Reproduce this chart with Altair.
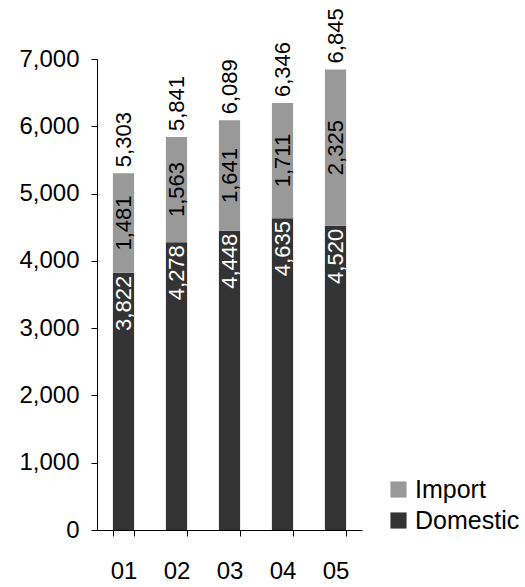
import altair as alt
import pandas as pd

years = ["01", "02", "03", "04", "05"]
domestic = [3822, 4278, 4448, 4635, 4520]
imports = [1481, 1563, 1641, 1711, 2325]
totals = [5303, 5841, 6089, 6346, 6845]

rows = []
for y, d, i in zip(years, domestic, imports):
    rows.append({"year": y, "series": "Domestic", "value": d, "start": 0, "end": d, "mid": d})
    rows.append({"year": y, "series": "Import", "value": i, "start": d, "end": d + i, "mid": d + i / 2})
df = pd.DataFrame(rows)
dom_df = df[df.series == "Domestic"]
imp_df = df[df.series == "Import"]
tot = pd.DataFrame({"year": years, "total": totals})

FONT = "Liberation Sans"
AX = 24
xenc = alt.X("year:N", scale=alt.Scale(paddingInner=0.6, paddingOuter=0.3),
             axis=alt.Axis(title=None, labelAngle=0, tickBand="extent", labelFontSize=AX,
                           labelFont=FONT, labelColor="black", labelPadding=23,
                           tickSize=6, tickColor="black", domainColor="black"))

bars = alt.Chart(df).mark_bar().encode(
    x=xenc,
    y=alt.Y("start:Q", scale=alt.Scale(domain=[0, 7000]),
            axis=alt.Axis(title=None, values=[0, 1000, 2000, 3000, 4000, 5000, 6000, 7000],
                          format=",.0f", grid=False, labelFontSize=AX, labelFont=FONT,
                          labelColor="black", tickSize=6, tickColor="black",
                          domainColor="black", labelPadding=12)),
    y2="end:Q",
    color=alt.Color("series:N",
                    scale=alt.Scale(domain=["Import", "Domestic"], range=["#999999", "#333333"]),
                    legend=alt.Legend(title=None, orient="none", legendX=289, legendY=418,
                                      symbolType="square", symbolSize=260, symbolStrokeWidth=0,
                                      labelFontSize=25, labelFont=FONT, labelColor="black",
                                      rowPadding=5, labelOffset=4)),
)

dom_labels = alt.Chart(dom_df).mark_text(angle=270, align="right", baseline="middle", dx=-3,
                                         fontSize=22, font=FONT, color="white").encode(
    x=alt.X("year:N"),
    y=alt.Y("end:Q"),
    text=alt.Text("value:Q", format=","),
)

imp_labels = alt.Chart(imp_df).mark_text(angle=270, align="center", baseline="middle",
                                         fontSize=22, font=FONT, color="black").encode(
    x=alt.X("year:N"),
    y=alt.Y("mid:Q"),
    text=alt.Text("value:Q", format=","),
)

tot_labels = alt.Chart(tot).mark_text(angle=270, align="left", baseline="middle", dx=6,
                                      fontSize=22, font=FONT, color="black").encode(
    x=alt.X("year:N"),
    y=alt.Y("total:Q"),
    text=alt.Text("total:Q", format=","),
)

chart = alt.layer(bars, dom_labels, imp_labels, tot_labels).properties(
    width=265, height=471,
    autosize=alt.AutoSizeParams(type="none"),
    padding={"left": 97, "top": 59, "right": 163, "bottom": 57},
).configure_view(stroke=None).configure_axis(domainWidth=1, tickWidth=1)

chart.save("out.html", embed_options={"renderer": "svg", "actions": False})
